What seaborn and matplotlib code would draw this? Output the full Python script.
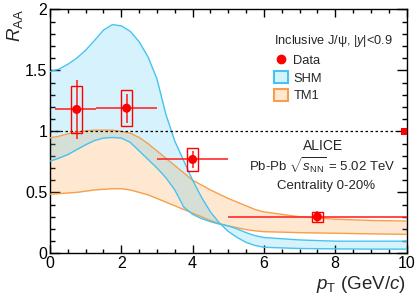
import seaborn as sns
import pandas as pd
import matplotlib.pyplot as plt
from matplotlib.patches import Rectangle, Patch
from matplotlib.lines import Line2D
from matplotlib.ticker import MultipleLocator, FuncFormatter

# model curves
pt_grid = [0, 0.25, 0.5, 0.75, 1.0, 1.25, 1.5, 1.75, 2.0, 2.25, 2.5, 2.75, 3.0,
           3.25, 3.5, 3.75, 4.0, 4.25, 4.5, 4.75, 5.0, 5.25, 5.5, 5.75, 6.0,
           7.0, 8.0, 9.0, 10.0]
shm_a = [1.49, 1.51, 1.55, 1.60, 1.665, 1.745, 1.83, 1.875, 1.865, 1.82, 1.735, 1.61, 1.43,
         1.14, 0.92, 0.76, 0.60, 0.46, 0.34, 0.25, 0.18, 0.13, 0.09, 0.065, 0.05,
         0.04, 0.037, 0.035, 0.035]
shm_b = [0.755, 0.78, 0.81, 0.85, 0.89, 0.925, 0.945, 0.95, 0.945, 0.91, 0.84, 0.77, 0.70,
         0.62, 0.52, 0.38, 0.32, 0.285, 0.26, 0.24, 0.225, 0.20, 0.17, 0.145, 0.13,
         0.11, 0.10, 0.10, 0.10]
tm1_hi = [0.947, 0.96, 0.98, 0.995, 1.005, 1.01, 1.01, 1.01, 1.0, 0.985, 0.95, 0.90, 0.84,
          0.78, 0.72, 0.66, 0.60, 0.56, 0.52, 0.485, 0.45, 0.42, 0.39, 0.36, 0.34,
          0.30, 0.28, 0.27, 0.265]
tm1_lo = [0.485, 0.49, 0.495, 0.50, 0.51, 0.52, 0.525, 0.53, 0.53, 0.52, 0.50, 0.48, 0.45,
          0.42, 0.39, 0.36, 0.33, 0.30, 0.27, 0.245, 0.225, 0.21, 0.195, 0.185, 0.178,
          0.17, 0.165, 0.16, 0.156]

# ALICE data
data_pt = [0.75, 2.15, 4.0, 7.5]
data_raa = [1.18, 1.19, 0.77, 0.30]
data_pt_lo = [0.15, 1.3, 3.0, 5.0]
data_pt_hi = [1.3, 3.0, 5.0, 10.0]
data_stat = [0.24, 0.12, 0.07, 0.05]
data_syst = [0.19, 0.145, 0.095, 0.04]
global_unc = 0.03

shm_line = "#45c4f0"
tm1_line = "#f7a04b"
shm_fill = (0.0, 0.70, 0.94, 0.16)
tm1_fill = (1.0, 0.55, 0.12, 0.20)

sns.set_style("ticks")
plt.rcParams["font.family"] = ["Liberation Sans", "DejaVu Sans"]
plt.rcParams["mathtext.fontset"] = "custom"
plt.rcParams["mathtext.rm"] = "Liberation Sans"
plt.rcParams["mathtext.it"] = "Liberation Sans:italic"

curves = pd.DataFrame({"pt": pt_grid, "shm_a": shm_a, "shm_b": shm_b,
                       "tm1_hi": tm1_hi, "tm1_lo": tm1_lo})
data = pd.DataFrame({"pt": data_pt, "raa": data_raa})

fig = plt.figure(figsize=(4.2, 3.02), dpi=100)
ax = fig.add_axes([0.119, 0.161, 0.849, 0.808])

# bands
ax.fill_between(curves.pt, curves.tm1_lo, curves.tm1_hi, color=tm1_fill, lw=0, zorder=1)
ax.fill_between(curves.pt, curves.shm_b, curves.shm_a, color=shm_fill, lw=0, zorder=2)
for col, c in [("tm1_hi", tm1_line), ("tm1_lo", tm1_line), ("shm_a", shm_line), ("shm_b", shm_line)]:
    sns.lineplot(data=curves, x="pt", y=col, color=c, lw=1.0, ax=ax, legend=False, zorder=3)

ax.axhline(1, color="black", ls=(0, (2, 2)), lw=0.9, zorder=4)

# data: stat error bars, syst boxes, markers
xerr = [[p - lo for p, lo in zip(data_pt, data_pt_lo)],
        [hi - p for p, hi in zip(data_pt, data_pt_hi)]]
ax.errorbar(data_pt, data_raa, xerr=xerr, yerr=data_stat, fmt="none",
            ecolor="#ff2a2a", elinewidth=1.2, capsize=0, zorder=5)
for p, r, s in zip(data_pt, data_raa, data_syst):
    ax.add_patch(Rectangle((p - 0.15, r - s), 0.3, 2 * s, fill=False,
                           edgecolor="red", lw=1.0, zorder=5))
sns.scatterplot(data=data, x="pt", y="raa", color="red", s=42, edgecolor="none",
                ax=ax, legend=False, zorder=6)
ax.add_patch(Rectangle((9.85, 1 - global_unc), 0.3, 2 * global_unc,
                       facecolor="red", edgecolor="none", zorder=6))

ax.set_xlim(0, 10)
ax.set_ylim(0, 2)
ax.xaxis.set_major_locator(MultipleLocator(2))
ax.xaxis.set_minor_locator(MultipleLocator(0.5))
ax.yaxis.set_major_locator(MultipleLocator(0.5))
ax.yaxis.set_minor_locator(MultipleLocator(0.1))
ax.yaxis.set_major_formatter(FuncFormatter(lambda v, _: f"{v:g}"))
ax.tick_params(which="both", direction="in", top=True, right=True, width=1.0,
               labelsize=11.5, pad=2, colors="black")
ax.tick_params(axis="x", which="major", length=5.5)
ax.tick_params(axis="x", which="minor", length=3)
ax.tick_params(axis="y", which="major", length=7)
ax.tick_params(axis="y", which="minor", length=3.5)
for sp in ax.spines.values():
    sp.set_linewidth(1.0)
    sp.set_color("black")

ax.set_xlabel(r"$p_{\rm T}$ (GeV/$c$)", loc="right", fontsize=13.5, labelpad=2)
ax.set_ylabel(r"$R_{\rm AA}$", loc="top", fontsize=13.5)
ax.yaxis.set_label_coords(-0.07, 1.0)

handles = [Line2D([], [], marker="o", color="red", ls="none", markersize=6),
           Patch(facecolor=shm_fill, edgecolor=shm_line, lw=1.5),
           Patch(facecolor=tm1_fill, edgecolor=tm1_line, lw=1.5)]
ax.legend(handles, ["Data", "SHM", "TM1"], title=r"Inclusive J/ψ, |$y$|<0.9",
          loc="upper left", bbox_to_anchor=(0.61, 0.93), frameon=False,
          fontsize=9.3, title_fontsize=9.2, alignment="left", borderpad=0,
          handlelength=1.1, handleheight=1.0, handletextpad=0.4, labelspacing=0.36)

ax.text(0.765, 0.44, "ALICE", transform=ax.transAxes, ha="center", va="center", fontsize=10)
ax.text(0.765, 0.358, r"Pb-Pb $\sqrt{s_{\rm NN}}$ = 5.02 TeV", transform=ax.transAxes,
        ha="center", va="center", fontsize=9.5)
ax.text(0.775, 0.278, "Centrality 0-20%", transform=ax.transAxes, ha="center",
        va="center", fontsize=9.5)

plt.savefig("out.png", dpi=100)
